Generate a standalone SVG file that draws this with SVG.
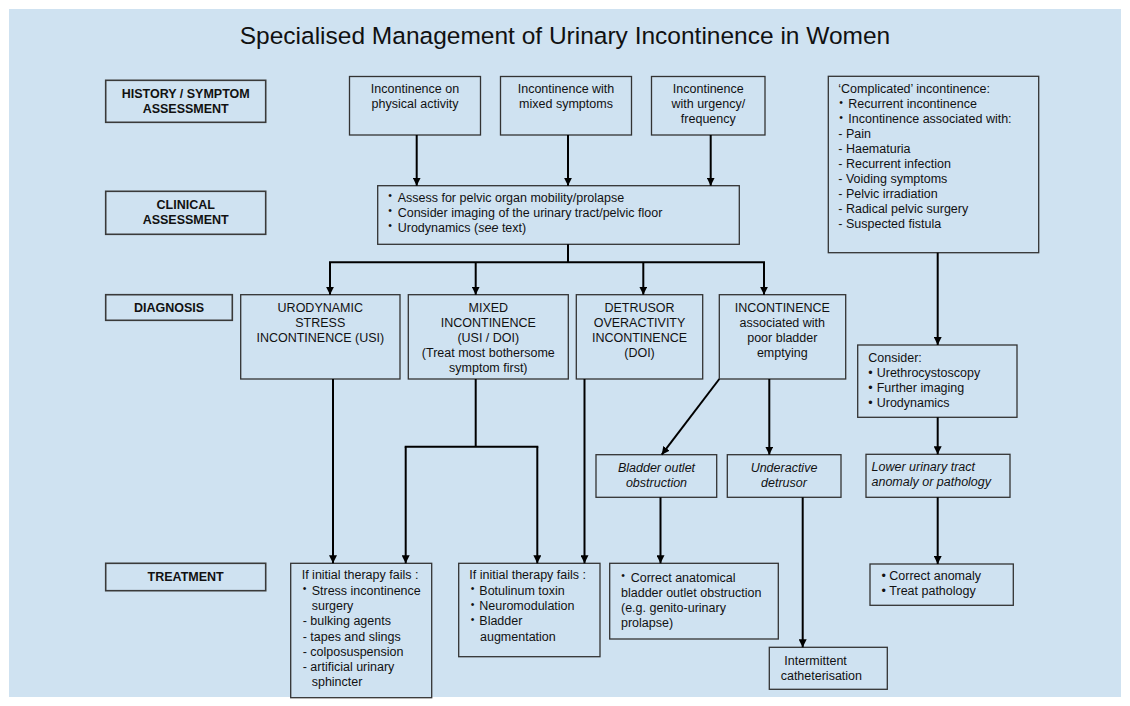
<svg xmlns="http://www.w3.org/2000/svg" width="1130" height="706" viewBox="0 0 1130 706">
<style>
text{font-family:"Liberation Sans",Arial,sans-serif;font-size:12.5px;fill:#111}
.t{font-size:24.5px;text-anchor:middle}
.lb{font-weight:bold;text-anchor:middle}
.c{text-anchor:middle}
.i{font-style:italic}
.b{font-size:10.5px}
.box{fill:none;stroke:#333;stroke-width:1.3}
.lab{fill:none;stroke:#3a3a3a;stroke-width:1.6}
.ln{fill:none;stroke:#000;stroke-width:2}
.ar{fill:none;stroke:#000;stroke-width:2;marker-end:url(#ah)}
</style>
<defs>
<marker id="ah" viewBox="0 0 10 10" refX="10" refY="5" markerUnits="userSpaceOnUse" markerWidth="8" markerHeight="8" orient="auto">
<path d="M0,0 L10,5 L0,10 z" fill="#000"/>
</marker>
</defs>
<rect x="0" y="0" width="1130" height="706" fill="#fff"/>
<rect x="9" y="9" width="1112" height="688" fill="#cfe2f1"/>
<text class="t" x="565" y="43.5">Specialised Management of Urinary Incontinence in Women</text>

<g id="label-history"><rect class="lab" x="105.7" y="80.3" width="160" height="42"/><text class="lb" x="185.7" y="97.7">HISTORY / SYMPTOM</text><text class="lb" x="185.7" y="112.7">ASSESSMENT</text></g>
<g id="label-clinical"><rect class="lab" x="105.7" y="191.3" width="160" height="43"/><text class="lb" x="185.7" y="209">CLINICAL</text><text class="lb" x="185.7" y="224">ASSESSMENT</text></g>
<g id="label-diagnosis"><rect class="lab" x="105.7" y="294.7" width="126.6" height="25.6"/><text class="lb" x="169" y="311.7">DIAGNOSIS</text></g>
<g id="label-treatment"><rect class="lab" x="105.7" y="563.3" width="160" height="27.4"/><text class="lb" x="185.7" y="580.7">TREATMENT</text></g>

<g id="sym-physical"><rect class="box" x="349.5" y="76.5" width="131" height="58.5"/><text class="c" x="415" y="93.3">Incontinence on</text><text class="c" x="415" y="108.3">physical activity</text></g>
<g id="sym-mixed"><rect class="box" x="500.5" y="76.5" width="131" height="58.5"/><text class="c" x="566" y="93.3">Incontinence with</text><text class="c" x="566" y="108.3">mixed symptoms</text></g>
<g id="sym-urgency"><rect class="box" x="651.5" y="76.5" width="113.5" height="58.5"/><text class="c" x="708.3" y="93.3">Incontinence</text><text class="c" x="708.3" y="108.3">with urgency/</text><text class="c" x="708.3" y="123.3">frequency</text></g>

<g id="complicated"><rect class="box" x="828.3" y="76.3" width="210.4" height="176.4"/>
<text x="838.3" y="93.3">‘Complicated’ incontinence:</text>
<text class="b" x="839.3" y="106">•</text><text x="848.3" y="108.3">Recurrent incontinence</text>
<text class="b" x="839.3" y="121">•</text><text x="848.3" y="123.3">Incontinence associated with:</text>
<text x="838.3" y="138.3">- Pain</text>
<text x="838.3" y="153.3">- Haematuria</text>
<text x="838.3" y="168.3">- Recurrent infection</text>
<text x="838.3" y="183.3">- Voiding symptoms</text>
<text x="838.3" y="198.3">- Pelvic irradiation</text>
<text x="838.3" y="213.3">- Radical pelvic surgery</text>
<text x="838.3" y="228.3">- Suspected fistula</text>
</g>

<g id="clinical"><rect class="box" x="377.7" y="185.7" width="361.6" height="58.6"/>
<text class="b" x="388.3" y="199.4">•</text><text x="397.7" y="201.7">Assess for pelvic organ mobility/prolapse</text>
<text class="b" x="388.3" y="214.4">•</text><text x="397.7" y="216.7">Consider imaging of the urinary tract/pelvic floor</text>
<text class="b" x="388.3" y="229.4">•</text><text x="397.7" y="231.7">Urodynamics (<tspan font-style="italic">see</tspan> text)</text>
</g>

<g id="dx-usi"><rect class="box" x="240.7" y="294.7" width="159.3" height="84.3"/><text class="c" x="320.3" y="312.3">URODYNAMIC</text><text class="c" x="320.3" y="327.3">STRESS</text><text class="c" x="320.3" y="342.3">INCONTINENCE (USI)</text></g>
<g id="dx-mixed"><rect class="box" x="408.3" y="294.7" width="160" height="84.3"/><text class="c" x="488.3" y="312.3">MIXED</text><text class="c" x="488.3" y="327.3">INCONTINENCE</text><text class="c" x="488.3" y="342.3">(USI / DOI)</text><text class="c" x="488.3" y="357.3">(Treat most bothersome</text><text class="c" x="488.3" y="372.3">symptom first)</text></g>
<g id="dx-doi"><rect class="box" x="576.3" y="294.7" width="126.4" height="84.3"/><text class="c" x="639.5" y="312.3">DETRUSOR</text><text class="c" x="639.5" y="327.3">OVERACTIVITY</text><text class="c" x="639.5" y="342.3">INCONTINENCE</text><text class="c" x="639.5" y="357.3">(DOI)</text></g>
<g id="dx-poor"><rect class="box" x="719.3" y="294.7" width="126.4" height="84.3"/><text class="c" x="782.3" y="312.3">INCONTINENCE</text><text class="c" x="782.3" y="327.3">associated with</text><text class="c" x="782.3" y="342.3">poor bladder</text><text class="c" x="782.3" y="357.3">emptying</text></g>

<g id="consider"><rect class="box" x="857.7" y="345" width="159.3" height="72.3"/>
<text x="868.3" y="362.3">Consider:</text>
<text x="868.3" y="377.3">•</text><text x="876.7" y="377.3">Urethrocystoscopy</text>
<text x="868.3" y="392.3">•</text><text x="876.7" y="392.3">Further imaging</text>
<text x="868.3" y="407.3">•</text><text x="876.7" y="407.3">Urodynamics</text>
</g>

<g id="outlet"><rect class="box" x="596" y="454.7" width="120.7" height="42.6"/><text class="c i" x="656.5" y="472.3">Bladder outlet</text><text class="c i" x="656.5" y="487.3">obstruction</text></g>
<g id="underactive"><rect class="box" x="727.3" y="454.7" width="113.7" height="42.6"/><text class="c i" x="784" y="472.3">Underactive</text><text class="c i" x="784" y="487.3">detrusor</text></g>
<g id="lut"><rect class="box" x="866" y="454.3" width="144" height="43"/><text class="i" x="871.5" y="470.7">Lower urinary tract</text><text class="i" x="871.5" y="485.7">anomaly or pathology</text></g>

<g id="tx-stress"><rect class="box" x="290.7" y="563.3" width="141" height="134.4"/>
<text x="301.7" y="579.3">If initial therapy fails :</text>
<text class="b" x="302.7" y="592.4">•</text><text x="311.7" y="594.7">Stress incontinence</text>
<text x="311.7" y="610">surgery</text>
<text x="302.7" y="625.2">- bulking agents</text>
<text x="302.7" y="640.5">- tapes and slings</text>
<text x="302.7" y="655.7">- colposuspension</text>
<text x="302.7" y="671">- artificial urinary</text>
<text x="311.7" y="686.3">sphincter</text>
</g>
<g id="tx-doi"><rect class="box" x="458.7" y="563.3" width="141.3" height="93.4"/>
<text x="469.3" y="579.3">If initial therapy fails :</text>
<text class="b" x="470.7" y="592.4">•</text><text x="479.3" y="594.7">Botulinum toxin</text>
<text class="b" x="470.7" y="607.7">•</text><text x="479.3" y="610">Neuromodulation</text>
<text class="b" x="470.7" y="622.9">•</text><text x="479.3" y="625.2">Bladder</text>
<text x="480" y="640.5">augmentation</text>
</g>
<g id="tx-outlet"><rect class="box" x="609.7" y="563.3" width="168.6" height="75.7"/>
<text class="b" x="621.3" y="579.4">•</text><text x="630.7" y="581.7">Correct anatomical</text>
<text x="621" y="596.7">bladder outlet  obstruction</text>
<text x="621" y="611.7">(e.g. genito-urinary</text>
<text x="621" y="626.7">prolapse)</text>
</g>
<g id="tx-cath"><rect class="box" x="769.3" y="647.3" width="118" height="42"/><text x="784.3" y="665.3">Intermittent</text><text x="780.7" y="680.3">catheterisation</text></g>
<g id="tx-lut"><rect class="box" x="870" y="564" width="143.3" height="41.3"/>
<text x="881.5" y="580">•</text><text x="889.3" y="580">Correct anomaly</text>
<text x="881.5" y="595">•</text><text x="889.3" y="595">Treat pathology</text>
</g>

<g id="connectors">
<line class="ar" x1="416.7" y1="135" x2="416.7" y2="185.7"/>
<line class="ar" x1="568" y1="135" x2="568" y2="185.7"/>
<line class="ar" x1="710.7" y1="135" x2="710.7" y2="185.7"/>
<line class="ln" x1="568" y1="244.3" x2="568" y2="262.3"/>
<line class="ln" x1="329" y1="262.3" x2="765" y2="262.3"/>
<line class="ar" x1="330" y1="262.3" x2="330" y2="294.7"/>
<line class="ar" x1="475.7" y1="262.3" x2="475.7" y2="294.7"/>
<line class="ar" x1="643.3" y1="262.3" x2="643.3" y2="294.7"/>
<line class="ar" x1="764" y1="262.3" x2="764" y2="294.7"/>
<line class="ar" x1="333" y1="379" x2="333" y2="563.3"/>
<line class="ln" x1="475.7" y1="379" x2="475.7" y2="446.7"/>
<line class="ln" x1="404.7" y1="446.7" x2="538.3" y2="446.7"/>
<line class="ar" x1="405.7" y1="446.7" x2="405.7" y2="563.3"/>
<line class="ar" x1="537.3" y1="446.7" x2="537.3" y2="563.3"/>
<line class="ar" x1="584.5" y1="379" x2="584.5" y2="563.3"/>
<line class="ar" x1="719.3" y1="379" x2="661.7" y2="454.7"/>
<line class="ar" x1="769.3" y1="379" x2="769.3" y2="454.7"/>
<line class="ar" x1="660.5" y1="497.3" x2="660.5" y2="563.3"/>
<line class="ar" x1="802.7" y1="497.3" x2="802.7" y2="647.3"/>
<line class="ar" x1="937.7" y1="252.7" x2="937.7" y2="345"/>
<line class="ar" x1="937.7" y1="417.3" x2="937.7" y2="454.3"/>
<line class="ar" x1="937.7" y1="497.3" x2="937.7" y2="564"/>
</g>
</svg>
